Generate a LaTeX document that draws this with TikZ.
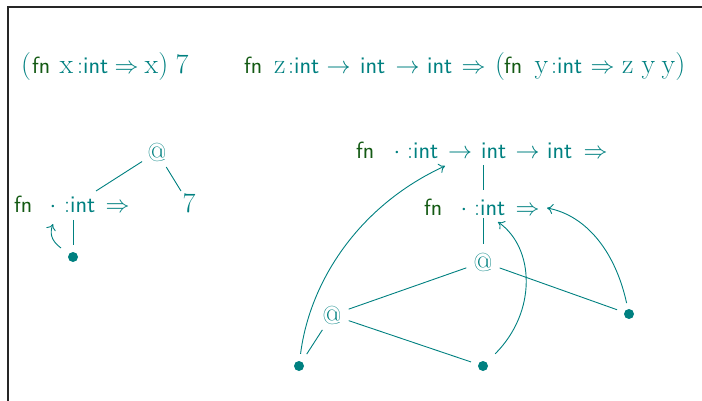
\documentclass[tikz,border=0pt]{standalone}
\usepackage{fix-cm}
\usetikzlibrary{arrows.meta}
\definecolor{tl}{RGB}{0,128,128}
\definecolor{fng}{RGB}{20,90,20}
\newcommand{\tyint}{\textsf{int}}
\newcommand{\srf}[1]{{\fontsize{28}{32}\selectfont #1}}
\newcommand{\Imp}{$\Rightarrow$}
\newcommand{\Arr}{$\rightarrow$}
\newcommand{\tok}[3]{\node[txt, anchor=base west] (#1) at (#2) {#3};}
\newcommand{\fntok}[2]{\node[fnlbl, anchor=base west] (#1) at (#2) {fn};}
\tikzset{
 txt/.style={inner sep=0pt, text=tl, font=\fontsize{24}{28}\selectfont},
 fnlbl/.style={inner sep=0pt, text=fng, font=\fontsize{23.5}{26}\selectfont\sffamily},
 atnode/.style={circle, inner sep=0pt, minimum size=35pt, text=tl, font=\fontsize{26}{30}\selectfont},
 leaf/.style={circle, fill=tl, inner sep=0pt, minimum size=10pt},
 edge/.style={draw=tl, line width=0.9pt},
 ptr/.style={edge, -{To[length=6pt,width=10pt]}},
}
\begin{document}
\begin{tikzpicture}[x=1pt,y=-1pt]
\useasboundingbox (0,0) rectangle (702,401);
\draw[line width=1.2pt, black!85] (8,401) -- (8,7) -- (702,7);
% top-left expression
\tok{a1}{21,73.5}{\srf{(}}
\fntok{a2}{32,73.5}
\tok{a3}{59.5,73.5}{\srf{x}}
\tok{a4}{77,73.5}{:\tyint}
\tok{a5}{114.5,73.5}{\Imp}
\tok{a6}{144.5,73.5}{\srf{x)}}
\tok{a7}{175.5,73.5}{\srf{7}}
% top-right expression
\fntok{b1}{244,73.5}
\tok{b2}{274,73.5}{\srf{z}}
\tok{b3}{288,73.5}{:\tyint}
\tok{b4}{326.5,73.5}{\Arr}
\tok{b5}{360,73.5}{\tyint}
\tok{b6}{395.5,73.5}{\Arr}
\tok{b7}{427,73.5}{\tyint}
\tok{b8}{461.5,73.5}{\Imp}
\tok{b9}{495,73.5}{\srf{(}}
\fntok{b10}{504,73.5}
\tok{b11}{534.5,73.5}{\srf{y}}
\tok{b12}{551,73.5}{:\tyint}
\tok{b13}{590.5,73.5}{\Imp}
\tok{b14}{622,73.5}{\srf{z}}
\tok{b15}{641.5,73.5}{\srf{y}}
\tok{b16}{661.5,73.5}{\srf{y)}}
% left tree
\node[atnode] (atL) at (157,152) {@};
\fntok{fnL}{14,213}
\node[txt, anchor=base] (bL) at (53,213) {$\cdot$};
\tok{tyL}{64,213}{:\tyint}
\tok{imL}{105.5,213}{\Imp}
\node[txt, anchor=base] (sev) at (189,213) {\srf{7}};
\node[leaf] (dL0) at (73,257) {};
\coordinate (lt1) at (96,191);
\coordinate (l7) at (181,191);
\coordinate (lv1) at (73,220);
\coordinate (la0) at (61,248);
\coordinate (la1) at (53,224);
\draw[edge] (atL) -- (lt1);
\draw[edge] (atL) -- (l7);
\draw[edge, shorten >=7pt] (lv1) -- (dL0);
\draw[ptr] (la0) .. controls (50,240) and (50,232) .. (la1);
% right tree, first line
\fntok{fn1}{356,159}
\node[txt, anchor=base] (bd1) at (397,159) {$\cdot$};
\tok{r1}{407,159}{:\tyint}
\tok{r2}{448,159}{\Arr}
\tok{r3}{481,159}{\tyint}
\tok{r4}{515.5,159}{\Arr}
\tok{r5}{547,159}{\tyint}
\tok{r6}{583.5,159}{\Imp}
% right tree, second line
\fntok{fn2}{424,215}
\node[txt, anchor=base] (bd2) at (464,215) {$\cdot$};
\tok{s1}{474,215}{:\tyint}
\tok{s2}{515.5,215}{\Imp}
% right tree, applications and leaves
\node[atnode] (atT) at (483,262) {@};
\node[atnode] (atLf) at (332,315) {@};
\node[leaf] (dA) at (299,366) {};
\node[leaf] (dB) at (483,366) {};
\node[leaf] (dC) at (629,314) {};
\coordinate (rv1a) at (483,165);
\coordinate (rv1b) at (483,190);
\coordinate (rv2) at (483,218);
\coordinate (c1) at (445,166);
\coordinate (c2) at (498,222);
\coordinate (c3) at (547,208);
\draw[edge] (rv1a) -- (rv1b);
\draw[edge] (rv2) -- (atT);
\draw[edge] (atT) -- (atLf);
\draw[edge, shorten >=7.5pt] (atT) -- (dC);
\draw[edge, shorten >=7.5pt] (atLf) -- (dB);
\draw[edge, shorten >=9pt] (atLf) -- (dA);
\draw[ptr, shorten <=7pt] (dA) .. controls (310,280) and (360,205) .. (c1);
\draw[ptr, shorten <=12pt] (dB) .. controls (537,312) and (535,248) .. (c2);
\draw[ptr, shorten <=6pt] (dC) .. controls (615,250) and (585,215) .. (c3);
\end{tikzpicture}
\end{document}
